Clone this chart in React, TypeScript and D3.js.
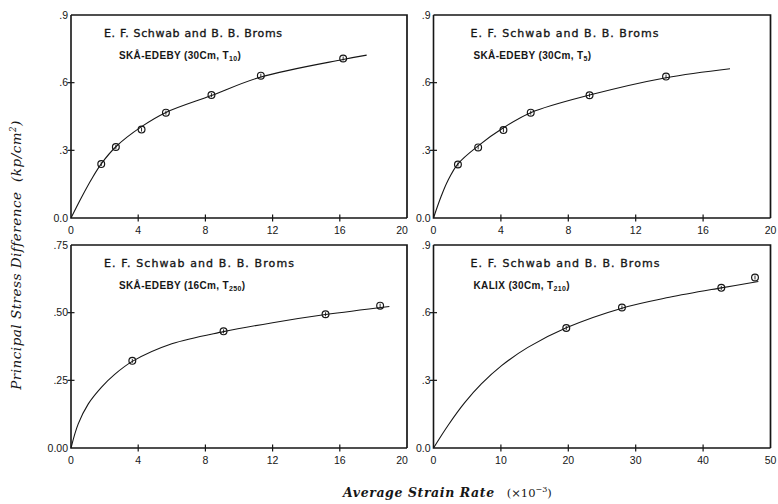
import * as d3 from "d3";

// ---- data ----
const titleText = "E. F. Schwab and B. B. Broms";

const xTicksA = [0, 4, 8, 12, 16, 20];
const xTicksB = [0, 10, 20, 30, 40, 50];
const yTicksA = [0, 0.3, 0.6, 0.9];
const yLabelsA = ["0.0", ".3", ".6", ".9"];
const yTicksB = [0, 0.25, 0.5, 0.75];
const yLabelsB = ["0.00", ".25", ".50", ".75"];

const sites = ["SKÅ-EDEBY (30Cm, T", "SKÅ-EDEBY (30Cm, T", "SKÅ-EDEBY (16Cm, T", "KALIX (30Cm, T"];
const siteSubs = ["10", "5", "250", "210"];

const points1 = [[1.8, 0.239], [2.67, 0.315], [4.2, 0.392], [5.65, 0.467], [8.36, 0.545], [11.3, 0.631], [16.2, 0.707]];
const curve1 = [[0, 0], [0.63, 0.092], [1.23, 0.173], [1.8, 0.24], [2.7, 0.318], [4.2, 0.405], [5.65, 0.468], [8.36, 0.543], [11.3, 0.625], [16.2, 0.703], [17.6, 0.722]];

const points2 = [[1.45, 0.237], [2.65, 0.313], [4.15, 0.39], [5.77, 0.467], [9.26, 0.544], [13.8, 0.627]];
const curve2 = [[0, 0], [0.45, 0.095], [0.85, 0.165], [1.45, 0.24], [2.65, 0.32], [4.15, 0.4], [5.77, 0.467], [9.26, 0.545], [13.8, 0.622], [17.6, 0.662]];

const points3 = [[3.65, 0.322], [9.08, 0.431], [15.15, 0.494], [18.4, 0.526]];
const curve3 = [[0, 0], [0.43, 0.089], [1.03, 0.163], [1.82, 0.225], [2.6, 0.272], [3.65, 0.32], [6, 0.385], [9.08, 0.43], [12, 0.463], [15.15, 0.493], [18.95, 0.523]];

const points4 = [[19.7, 0.532], [27.96, 0.623], [42.7, 0.71], [47.7, 0.756]];
const curve4 = [[0, 0], [2.15, 0.1], [4.6, 0.2], [7.1, 0.284], [10.1, 0.365], [14, 0.446], [19.7, 0.533], [27.96, 0.62], [35, 0.668], [42.7, 0.71], [48.2, 0.738]];

// ---- layout ----
const W = 778;
const H = 504;
const INK = "#161616";
const COL = [[71, 407], [433.5, 770.5]];
const ROW = [[218, 15], [448, 245]];

const panels = [
  { col: 0, row: 0, xDomain: [0, 20], yDomain: [0, 0.9], xTicks: xTicksA, yTicks: yTicksA, yLabels: yLabelsA, points: points1, curve: curve1, title: { dx: 33, w: 178 }, sub: { dx: 48, w: 124 } },
  { col: 1, row: 0, xDomain: [0, 20], yDomain: [0, 0.9], xTicks: xTicksA, yTicks: yTicksA, yLabels: yLabelsA, points: points2, curve: curve2, title: { dx: 37, w: 188 }, sub: { dx: 40, w: 124 } },
  { col: 0, row: 1, xDomain: [0, 20], yDomain: [0, 0.75], xTicks: xTicksA, yTicks: yTicksB, yLabels: yLabelsB, points: points3, curve: curve3, title: { dx: 33, w: 190 }, sub: { dx: 48, w: 122 } },
  { col: 1, row: 1, xDomain: [0, 50], yDomain: [0, 0.9], xTicks: xTicksB, yTicks: yTicksA, yLabels: yLabelsA, points: points4, curve: curve4, title: { dx: 37, w: 189 }, sub: { dx: 40, w: 98 } },
];

const Panel = ({ p, i }) => {
  const [x0, x1] = COL[p.col];
  const [y0, y1] = ROW[p.row];
  const x = d3.scaleLinear().domain(p.xDomain).range([x0, x1]);
  const y = d3.scaleLinear().domain(p.yDomain).range([y0, y1]);
  const line = d3
    .line()
    .x((d) => x(d[0]))
    .y((d) => y(d[1]))
    .curve(d3.curveCatmullRom.alpha(0.5));

  const last = p.xTicks.length - 1;

  return (
    <g>
      {/* frame */}
      <path d={`M${x0},${y1} H${x1} V${y0}`} fill="none" stroke={INK} strokeWidth={1.7} />
      <path d={`M${x0},${y1} V${y0} H${x1}`} fill="none" stroke={INK} strokeWidth={1.6} />

      {/* x ticks */}
      {p.xTicks.map((t, k) => (
        <g key={"x" + k}>
          {k > 0 && k < last && (
            <line x1={x(t)} x2={x(t)} y1={y0 - 3.5} y2={y0 + 3.5} stroke={INK} strokeWidth={1.2} />
          )}
          <text
            x={x(t) + (k === last && p.col === 0 ? -5 : 0)}
            y={y0 + 15.5}
            textAnchor="middle"
            fontFamily="Liberation Sans, Arial, sans-serif"
            fontSize={10.5}
            fill={INK}
          >
            {t}
          </text>
        </g>
      ))}

      {/* y ticks */}
      {p.yTicks.map((t, k) => (
        <g key={"y" + k}>
          {k > 0 && k < p.yTicks.length - 1 && (
            <line x1={x0 - 3.5} x2={x0 + 3.5} y1={y(t)} y2={y(t)} stroke={INK} strokeWidth={1.2} />
          )}
          <text
            x={x0 - 3}
            y={y(t) + 3.8}
            textAnchor="end"
            fontFamily="Liberation Sans, Arial, sans-serif"
            fontSize={10.5}
            fill={INK}
          >
            {p.yLabels[k]}
          </text>
        </g>
      ))}

      {/* fitted curve */}
      <path d={line(p.curve)} fill="none" stroke={INK} strokeWidth={1.1} />

      {/* measured points */}
      {p.points.map((d, k) => (
        <g key={"p" + k}>
          <circle cx={x(d[0])} cy={y(d[1])} r={3.4} fill="none" stroke={INK} strokeWidth={1.2} />
          <line x1={x(d[0])} x2={x(d[0])} y1={y(d[1]) - 2} y2={y(d[1]) + 2} stroke={INK} strokeWidth={0.9} />
        </g>
      ))}

      {/* labels */}
      <text
        x={x0 + p.title.dx}
        y={y1 + 21.5}
        fontFamily="DejaVu Sans, sans-serif"
        fontSize={11}
        stroke={INK}
        strokeWidth={0.35}
        textLength={p.title.w}
        lengthAdjust="spacing"
        fill={INK}
      >
        {titleText}
      </text>
      <text
        x={x0 + p.sub.dx}
        y={y1 + 44}
        fontFamily="Liberation Sans, Arial, sans-serif"
        fontSize={10}
        fontWeight="bold"
        letterSpacing={0.35}
        fill={INK}
      >
        {sites[i]}
        <tspan fontSize={7} dy={2}>{siteSubs[i]}</tspan>
        <tspan dy={-2}>)</tspan>
      </text>
    </g>
  );
};

export default function App() {
  return (
    <svg
      width={W}
      height={H}
      viewBox={`0 0 ${W} ${H}`}
      style={{ position: "absolute", left: 0, top: 0, background: "#fff" }}
    >
      <rect width={W} height={H} fill="#fff" />
      {panels.map((p, i) => (
        <Panel key={i} p={p} i={i} />
      ))}

      <text
        transform="translate(21,255) rotate(-90)"
        textAnchor="middle"
        fontFamily="DejaVu Serif, serif"
        fontStyle="italic"
        fontSize={13.5}
        letterSpacing={0.5}
        fill={INK}
      >
        Principal Stress Difference{"\u00a0\u00a0"}(kp/cm<tspan fontSize={8.5} dy={-5}>2</tspan>
        <tspan dy={5}>)</tspan>
      </text>

      <text x={343} y={497} fontFamily="DejaVu Serif, serif" fill={INK}>
        <tspan fontStyle="italic" fontWeight="bold" fontSize={12.5} letterSpacing={0.6}>Average Strain Rate</tspan>
        <tspan fontSize={11.5} dx={12}>(×10</tspan>
        <tspan fontSize={8} dy={-5}>−3</tspan>
        <tspan fontSize={11.5} dy={5}>)</tspan>
      </text>
    </svg>
  );
}
